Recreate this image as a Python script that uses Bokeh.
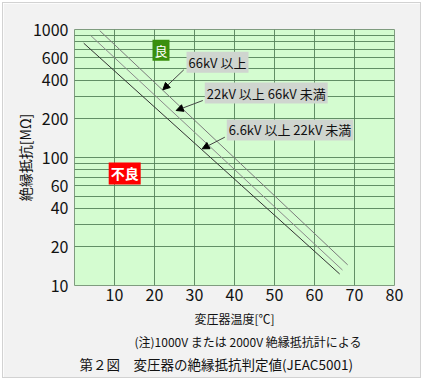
from bokeh.plotting import figure
from bokeh.models import FixedTicker, Label, Arrow, NormalHead, Title
from bokeh.embed import file_html
from bokeh.resources import INLINE

# ---- data ----
temp_66 = [6.3, 68.3]
res_66 = [980, 14.5]
temp_22 = [4.0, 67.0]
res_22 = [900, 13.2]
temp_6 = [2.3, 66.3]
res_6 = [782, 12.3]

x_ticks = [10, 20, 30, 40, 50, 60, 70, 80]
y_ticks = [10, 20, 40, 60, 100, 200, 400, 600, 1000]
y_tick_labels = ["10", "20", "40", "60", "100", "200", "400", "600", "1000"]
x_grid = [10, 20, 30, 40, 50, 60, 70]
y_grid = [10, 20, 30, 40, 50, 60, 70, 80, 90,
          100, 200, 300, 400, 500, 600, 700, 800, 900, 1000]

label_66 = "66kV 以上"
label_22 = "22kV 以上 66kV 未満"
label_6 = "6.6kV 以上 22kV 未満"
good_text = "良"
bad_text = "不良"
x_title = "変圧器温度[℃]"
y_title = "絶縁抵抗[MΩ]"
note_text = "(注)1000V または 2000V 絶縁抵抗計による"
caption_text = "第２図　変圧器の絶縁抵抗判定値(JEAC5001)"

FONT = "Noto Sans CJK JP"

# canvas placed at page (3,3); frame: left 74, right 394, top 29, bottom 285 (page px)
FL, FB = 74, 285

p = figure(width=419, height=376, x_range=(0, 80), y_range=(10, 1000),
           y_axis_type="log", output_backend="svg", toolbar_location=None,
           min_border_left=71, min_border_right=28, min_border_top=26,
           min_border_bottom=94,
           styles={"margin": "2px 0 0 2px", "border": "1px solid #d2d2d2"})

p.background_fill_color = "#d4fcd0"
p.border_fill_color = "#f2f2f2"
p.outline_line_color = "#7f9c7f"
p.outline_line_width = 1

p.xgrid.ticker = FixedTicker(ticks=x_grid)
p.ygrid.ticker = FixedTicker(ticks=y_grid)
for g in (p.xgrid, p.ygrid):
    g.grid_line_color = "#55825a"
    g.grid_line_width = 1
    g.grid_line_alpha = 0.9

p.xaxis.ticker = FixedTicker(ticks=x_ticks)
p.yaxis.ticker = FixedTicker(ticks=y_ticks)
p.yaxis.major_label_overrides = {t: l for t, l in zip(y_ticks, y_tick_labels)}
for ax in (p.xaxis, p.yaxis):
    ax.axis_line_color = None
    ax.major_tick_line_color = None
    ax.minor_tick_line_color = None
    ax.major_tick_out = 0
    ax.major_tick_in = 0
    ax.minor_tick_out = 0
    ax.major_label_text_font = FONT
    ax.major_label_text_font_size = "16px"
    ax.major_label_text_color = "#111111"
    ax.axis_label_text_font = FONT
    ax.axis_label_text_font_style = "normal"
    ax.axis_label_text_color = "#111111"
p.yaxis.major_label_standoff = 6
p.xaxis.major_label_standoff = 3

p.xaxis.axis_label = x_title
p.xaxis.axis_label_text_font_size = "12px"
p.xaxis.axis_label_standoff = 6
p.yaxis.axis_label = y_title
p.yaxis.axis_label_text_font_size = "14px"
p.yaxis.axis_label_standoff = -5

# lines
p.line(temp_66, res_66, line_color="#7a7a7a", line_width=1)
p.line(temp_22, res_22, line_color="#8a8a8a", line_width=1)
p.line(temp_6, res_6, line_color="#333333", line_width=1)


def sx(px):
    return px - FL


def sy(py):
    return FB - py


def box_label(px, py, text, bg, color="#111111", size="13px", align="left", style="normal"):
    p.add_layout(Label(x=sx(px), y=sy(py), x_units="screen", y_units="screen",
                       text=text, text_font=FONT, text_font_size=size,
                       text_color=color, text_align=align, text_baseline="middle",
                       text_font_style=style,
                       background_fill_color=bg,
                       padding=dict(left=2, right=2, top=1, bottom=1)))


box_label(186, 61.7, label_66, "#cfd5cf")
box_label(204.3, 92.5, label_22, "#cfd5cf")
box_label(226.3, 129.4, label_6, "#cfd5cf")
box_label(160.5, 49.8, good_text, "#3a8f0e", color="white", align="center")
box_label(124.2, 172.9, bad_text, "#ff0000", color="white", size="14px", align="center", style="bold")

# arrows
for (x0, y0, x1, y1) in [(183.3, 69.3, 162.3, 89.3),
                         (202.3, 100.0, 175.7, 110.0),
                         (224.3, 136.7, 201.7, 148.3)]:
    p.add_layout(Arrow(x_start=sx(x0), y_start=sy(y0), x_end=sx(x1), y_end=sy(y1),
                       start_units="screen", end_units="screen",
                       line_color="#444444", line_width=1,
                       end=NormalHead(size=7, fill_color="black", line_color="black")))

# notes below the axis title
p.add_layout(Title(text=note_text, align="left", offset=60, text_font=FONT,
                   text_font_size="12px", text_font_style="normal",
                   text_color="#111111", standoff=2), "below")
p.add_layout(Title(text=caption_text, align="left", offset=5, text_font=FONT,
                   text_font_size="13.5px", text_font_style="normal",
                   text_color="#111111", standoff=2), "below")

open("out.html", "w").write(file_html(p, INLINE))
